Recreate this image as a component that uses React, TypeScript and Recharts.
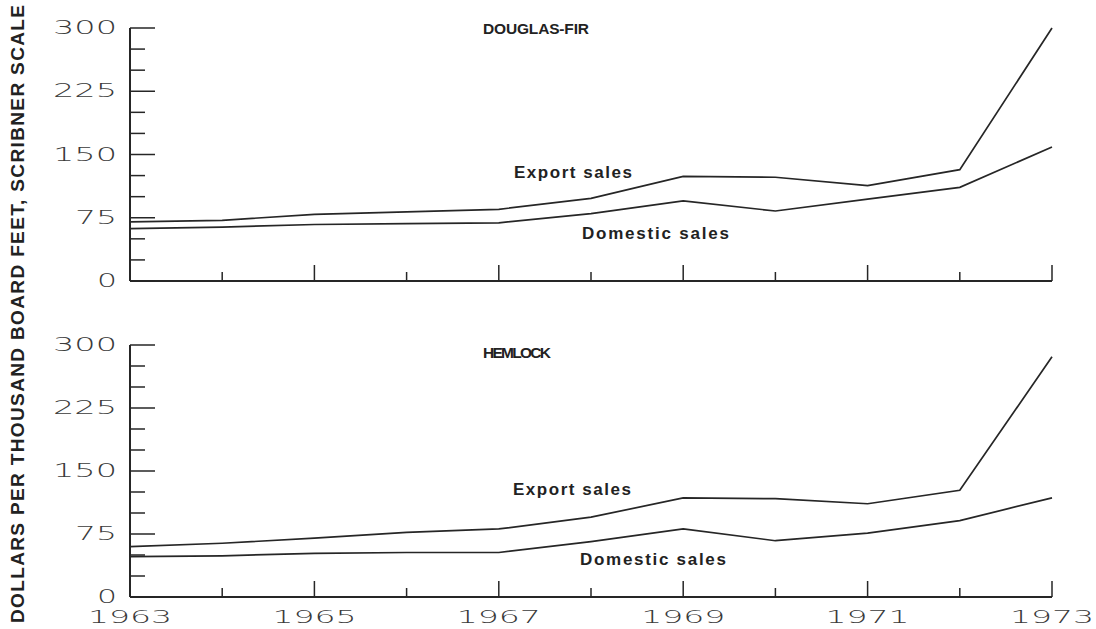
import React from "react";
import { LineChart, Line, XAxis, YAxis } from "recharts";

// Stumpage prices, dollars per thousand board feet (Scribner scale)
const years = [1963, 1964, 1965, 1966, 1967, 1968, 1969, 1970, 1971, 1972, 1973];
const firExport = [70, 72, 79, 82, 85, 98, 124, 123, 113, 132, 300];
const firDomestic = [62, 64, 67, 68, 69, 80, 95, 83, 97, 111, 159];
const hemExport = [60, 64, 70, 77, 81, 95, 118, 117, 111, 127, 286];
const hemDomestic = [48, 49, 52, 53, 53, 66, 81, 67, 76, 91, 118];

const yTicks = [0, 25, 50, 75, 100, 125, 150, 175, 200, 225, 250, 275, 300];
const yLabelTicks = [0, 75, 150, 225, 300];
const xLabelYears = [1963, 1965, 1967, 1969, 1971, 1973];

const yAxisTitle = "DOLLARS PER THOUSAND BOARD FEET, SCRIBNER SCALE";

const INK = "#262626";
const NUM_FONT = "'DejaVu Sans', sans-serif";
const LABEL_FONT = "'Liberation Sans', Arial, sans-serif";

const firData = years.map((year, i) => ({ year, exp: firExport[i], dom: firDomestic[i] }));
const hemData = years.map((year, i) => ({ year, exp: hemExport[i], dom: hemDomestic[i] }));

function YTick(props: any) {
  const { x, y, payload } = props;
  const v = payload.value as number;
  const major = yLabelTicks.includes(v);
  const label = String(v);
  return (
    <g>
      <line x1={x} x2={x + (major ? 25 : 15)} y1={y} y2={y} stroke={INK} strokeWidth={1.5} />
      {major && (
        <text
          x={117}
          y={y + 6}
          textAnchor="end"
          fontFamily={NUM_FONT}
          fontWeight={200}
          fontSize={19}
          fill="#3a3a3a"
          textLength={label.length * 22 - 2}
          lengthAdjust="spacingAndGlyphs"
        >
          {label}
        </text>
      )}
    </g>
  );
}

function makeXTick(showLabels: boolean) {
  return function XTick(props: any) {
    const { x, y, payload } = props;
    const v = payload.value as number;
    const major = (v - 1963) % 2 === 0;
    const label = String(v);
    return (
      <g>
        {v !== 1963 && (
          <line x1={x} x2={x} y1={y} y2={y - (major ? 16 : 9)} stroke={INK} strokeWidth={1.5} />
        )}
        {showLabels && xLabelYears.includes(v) && (
          <text
            x={x}
            y={y + 26}
            textAnchor="middle"
            fontFamily={NUM_FONT}
            fontWeight={200}
            fontSize={17}
            fill="#3a3a3a"
            textLength={84}
            lengthAdjust="spacingAndGlyphs"
          >
            {label}
          </text>
        )}
      </g>
    );
  };
}

function Panel(props: { data: any[]; top: number; height: number; marginTop: number; xHeight: number; showLabels: boolean }) {
  const { data, top, height, marginTop, xHeight, showLabels } = props;
  return (
    <div style={{ position: "absolute", left: 0, top }}>
      <LineChart width={1096} height={height} data={data} margin={{ top: marginTop, right: 44, bottom: 0, left: 0 }}>
        <XAxis
          dataKey="year"
          type="number"
          domain={[1963, 1973]}
          ticks={years}
          interval={0}
          height={xHeight}
          tickSize={0}
          tickMargin={0}
          tickLine={false}
          axisLine={{ stroke: INK, strokeWidth: 2 }}
          tick={makeXTick(showLabels)}
        />
        <YAxis
          type="number"
          domain={[0, 300]}
          ticks={yTicks}
          interval={0}
          width={130}
          tickSize={0}
          tickMargin={0}
          tickLine={false}
          axisLine={{ stroke: INK, strokeWidth: 2 }}
          tick={YTick}
        />
        <Line dataKey="exp" stroke={INK} strokeWidth={1.7} dot={false} isAnimationActive={false} />
        <Line dataKey="dom" stroke={INK} strokeWidth={1.7} dot={false} isAnimationActive={false} />
      </LineChart>
    </div>
  );
}

function Caption(props: { x: number; y: number; w: number; size: number; children: string }) {
  return (
    <text
      x={props.x}
      y={props.y}
      fontFamily={LABEL_FONT}
      fontWeight={700}
      fontSize={props.size}
      fill="#222"
      textLength={props.w}
    >
      {props.children}
    </text>
  );
}

export default function App() {
  return (
    <div style={{ position: "absolute", left: 0, top: 0, width: 1096, height: 629, background: "#fff", overflow: "hidden" }}>
      <Panel data={firData} top={0} height={300} marginTop={28} xHeight={19} showLabels={false} />
      <Panel data={hemData} top={320} height={309} marginTop={25} xHeight={32} showLabels={true} />
      <svg width={1096} height={629} style={{ position: "absolute", left: 0, top: 0, pointerEvents: "none" }}>
        <text
          transform="translate(24, 314) rotate(-90)"
          textAnchor="middle"
          fontFamily={LABEL_FONT}
          fontWeight={700}
          fontSize={19}
          fill="#222"
          textLength={618}
        >
          {yAxisTitle}
        </text>
        <Caption x={483} y={34} w={106} size={15.5}>DOUGLAS-FIR</Caption>
        <Caption x={514} y={178} w={118} size={17}>Export sales</Caption>
        <Caption x={582} y={239} w={147} size={17}>Domestic sales</Caption>
        <Caption x={483} y={358} w={68} size={15.5}>HEMLOCK</Caption>
        <Caption x={513} y={495} w={118} size={17}>Export sales</Caption>
        <Caption x={580} y={565} w={146} size={17}>Domestic sales</Caption>
      </svg>
    </div>
  );
}
